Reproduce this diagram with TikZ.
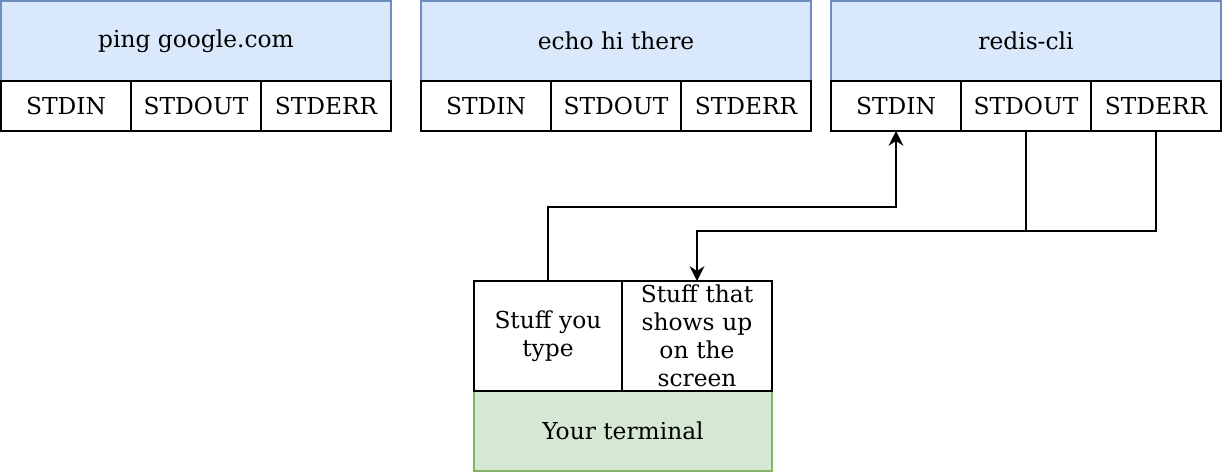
\documentclass[tikz,border=0pt]{standalone}
\usepackage{fontspec}
\setmainfont{DejaVu Serif}
\usetikzlibrary{arrows.meta, positioning}
\definecolor{progfill}{HTML}{DAE8FC}
\definecolor{progline}{HTML}{6C8EBF}
\definecolor{termfill}{HTML}{D5E8D4}
\definecolor{termline}{HTML}{82B366}

\begin{document}
\begin{tikzpicture}[
  x=0.75pt, y=-0.75pt,
  every node/.style={font=\fontsize{17.5pt}{21pt}\selectfont, text=black,
    outer sep=0pt, inner sep=0pt},
  flow/.style={-{Stealth[length=11pt, width=11pt, inset=3.5pt]}, line width=2.2pt},
  rail/.style={line width=2.2pt},
  program/.style={draw=progline, fill=progfill, line width=1pt,
    minimum width=292.5pt, minimum height=60pt},
  stream/.style={draw=black, fill=white, line width=1pt,
    minimum width=97.5pt, minimum height=37.5pt},
  termcell/.style={draw=black, fill=white, line width=1pt,
    minimum height=82.5pt, align=center},
  terminal/.style={draw=termline, fill=termfill, line width=1pt,
    minimum width=223.5pt, minimum height=60pt}
]
\useasboundingbox (0,0) rectangle (1222,472);

% programs
\node[program] (ping) at (196,41) {ping google.com};
\node[program] (echo) at (616,41) {echo hi there};
\node[program] (redis) at (1026,41) {redis-cli};

% streams of ping
\node[stream, below right=0pt and 0pt of ping.south west] (pin) {STDIN};
\node[stream, right=0pt of pin] (pout) {STDOUT};
\node[stream, right=0pt of pout] (perr) {STDERR};

% streams of echo
\node[stream, below right=0pt and 0pt of echo.south west] (ein) {STDIN};
\node[stream, right=0pt of ein] (eout) {STDOUT};
\node[stream, right=0pt of eout] (eerr) {STDERR};

% streams of redis-cli
\node[stream, below right=0pt and 0pt of redis.south west] (rin) {STDIN};
\node[stream, right=0pt of rin] (rout) {STDOUT};
\node[stream, right=0pt of rout] (rerr) {STDERR};

% terminal
\node[terminal] (term) at (623,431) {Your terminal};
\node[termcell, minimum width=111pt, text width=105pt,
  above right=0pt and 0pt of term.north west] (type) {Stuff you\\type};
\node[termcell, minimum width=112.5pt, text width=108pt,
  above left=0pt and 0pt of term.north east] (screen)
  {Stuff that\\shows up\\on the\\screen};

% rails
\coordinate (inrail) at (0,207);
\coordinate (outrail) at (0,231);

\draw[flow] (type.north) -- (type.north |- inrail) -| (rin.south);
\draw[flow] (rout.south) -- (rout.south |- outrail) -| (screen.north);
\draw[rail] (rerr.south) |- (rout.south |- outrail);

\end{tikzpicture}
\end{document}
